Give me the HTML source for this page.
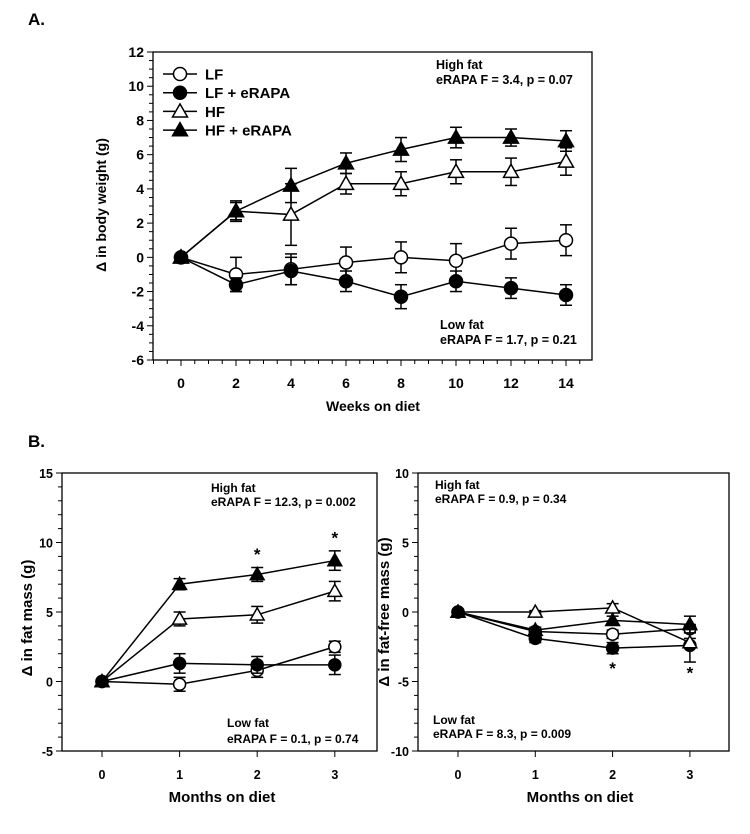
<!DOCTYPE html>
<html><head><meta charset="utf-8"><style>
html,body{margin:0;padding:0;background:#fff;}
svg{display:block;font-family:"Liberation Sans",Arial,sans-serif;}
</style></head><body>
<svg id="fig" width="750" height="834" viewBox="0 0 750 834" xmlns="http://www.w3.org/2000/svg">
<text x="28" y="25" font-size="17" font-weight="bold">A.</text>
<text x="28" y="447" font-size="17" font-weight="bold">B.</text>
</svg>
<script>
// Panel A data
const weeks = [0,2,4,6,8,10,12,14];
const aLF = [0,-1.0,-0.7,-0.3,0.0,-0.2,0.8,1.0];
const aLFerr = [0,1.0,0.9,0.9,0.9,1.0,0.9,0.9];
const aLFe = [0,-1.6,-0.8,-1.4,-2.3,-1.4,-1.8,-2.2];
const aLFeErr = [0,0.4,0.8,0.6,0.7,0.6,0.6,0.6];
const aHF = [0,2.7,2.5,4.3,4.3,5.0,5.0,5.6];
const aHFerr = [0,0.5,1.8,0.6,0.7,0.7,0.8,0.8];
const aHFe = [0,2.7,4.2,5.5,6.3,7.0,7.0,6.8];
const aHFeErr = [0,0.6,1.0,0.6,0.7,0.6,0.5,0.6];
const aYTicks = [-6,-4,-2,0,2,4,6,8,10,12];
const aXTicks = [0,2,4,6,8,10,12,14];
// Panel B data
const months = [0,1,2,3];
const fmLF = [0,-0.2,0.8,2.5];
const fmLFerr = [0,0.5,0.5,0.4];
const fmLFe = [0,1.3,1.2,1.2];
const fmLFeErr = [0,0.7,0.6,0.7];
const fmHF = [0,4.5,4.8,6.5];
const fmHFerr = [0,0.5,0.6,0.7];
const fmHFe = [0,7.0,7.7,8.7];
const fmHFeErr = [0,0.4,0.5,0.7];
const fmYTicks = [-5,0,5,10,15];
const fmStars = [[2,9.3],[3,10.5]];
const ffLF = [0,-1.4,-1.6,-1.2];
const ffLFerr = [0,0.2,0.3,0.3];
const ffLFe = [0,-1.9,-2.6,-2.4];
const ffLFeErr = [0,0.3,0.4,1.2];
const ffHF = [0,0.0,0.3,-2.2];
const ffHFerr = [0,0.1,0.3,0.3];
const ffHFe = [0,-1.3,-0.6,-0.9];
const ffHFeErr = [0,0.2,0.3,0.6];
const ffYTicks = [-10,-5,0,5,10];
const ffStars = [[2,-3.9],[3,-4.2]];

const NS="http://www.w3.org/2000/svg";
const svg=document.getElementById('fig');
function el(tag,attrs,parent){const e=document.createElementNS(NS,tag);for(const k in attrs)e.setAttribute(k,attrs[k]);(parent||svg).appendChild(e);return e;}

function marker(g,type,x,y,r){
  let m;
  if(type==='circle'||type==='dot'){
    m=el('circle',{cx:x,cy:y,r:r,fill:type==='dot'?'#000':'#fff',stroke:'#000','stroke-width':1.5},g);
  } else {
    const h=r*1.15;
    m=el('polygon',{points:`${x},${y-h} ${x-h},${y+h*0.75} ${x+h},${y+h*0.75}`,fill:type==='tri'?'#000':'#fff',stroke:'#000','stroke-width':1.5},g);
  }
  return m;
}

function panel(cfg){
  const g=el('g',{});
  
  
  const X=v=>cfg.x0+(v-cfg.xmin)*(cfg.xpx);
  const Y=v=>cfg.yb-(v-cfg.ymin)*(cfg.yb-cfg.yt)/(cfg.ymax-cfg.ymin);
  const box=el('rect',{x:cfg.bl,y:cfg.yt,width:cfg.br-cfg.bl,height:cfg.yb-cfg.yt,fill:'none',stroke:'#000','stroke-width':1.3},g);
  
  
  for(let v=cfg.ymin; v<=cfg.ymax+1e-9; v+=cfg.yminor){
    const major=cfg.yTicks.some(t=>Math.abs(t-v)<1e-6);
    el('line',{x1:cfg.bl-(major?6:4),x2:cfg.bl,y1:Y(v),y2:Y(v),stroke:'#000','stroke-width':1},g);
  }
  cfg.yTicks.forEach(t=>{
    const tx=el('text',{x:cfg.bl-9,y:Y(t)+5,'text-anchor':'end','font-size':cfg.fs,'font-weight':'bold'},g);
    tx.textContent=t;
    
    
  });
  if(cfg.xminor){
    for(let v=cfg.xmin-cfg.xminor*Math.floor((cfg.x0-cfg.bl)/(cfg.xpx*cfg.xminor)); X(v)<=cfg.br; v+=cfg.xminor){
      if(X(v)<cfg.bl)continue;
      const major=cfg.xTicks.some(t=>Math.abs(t-v)<1e-6);
      el('line',{x1:X(v),x2:X(v),y1:cfg.yb,y2:cfg.yb+(major?6:4),stroke:'#000','stroke-width':1},g);
    }
  } else {
    cfg.xTicks.forEach(t=>el('line',{x1:X(t),x2:X(t),y1:cfg.yb,y2:cfg.yb+6,stroke:'#000','stroke-width':1},g));
  }
  cfg.xTicks.forEach(t=>{
    const tx=el('text',{x:X(t),y:cfg.yb+28,'text-anchor':'middle','font-size':cfg.fs,'font-weight':'bold'},g);
    tx.textContent=t;
    
    
  });
  const xt=el('text',{x:cfg.xtitleX,y:cfg.xtitleY,'text-anchor':'middle','font-size':cfg.tfs,'font-weight':'bold'},g);
  xt.textContent=cfg.xtitle;
  
  
  const yt=el('text',{x:0,y:0,'text-anchor':'middle','font-size':cfg.tfs,'font-weight':'bold',transform:`translate(${cfg.ytitleX},${cfg.ytitleY}) rotate(-90)`},g);
  yt.textContent='\u0394 in '+cfg.ytitle;
  
  
  cfg.series.forEach(s=>{
    const sg=el('g',{},g);
    
    
    const pts=cfg.xs.map((x,i)=>`${X(x)},${Y(s.v[i])}`).join(' ');
    const pl=el('polyline',{points:pts,fill:'none',stroke:'#000','stroke-width':1.5},sg);
    
    
    cfg.xs.forEach((x,i)=>{
      if(s.e[i]>0){
        const cx=X(x),y1=Y(s.v[i]-s.e[i]),y2=Y(s.v[i]+s.e[i]);
        el('line',{x1:cx,x2:cx,y1:y1,y2:y2,stroke:'#000','stroke-width':1.5},sg);
        el('line',{x1:cx-6,x2:cx+6,y1:y1,y2:y1,stroke:'#000','stroke-width':1.5},sg);
        el('line',{x1:cx-6,x2:cx+6,y1:y2,y2:y2,stroke:'#000','stroke-width':1.5},sg);
      }
    });
    cfg.xs.forEach((x,i)=>{
      const m=marker(sg,s.type,X(x),Y(s.v[i]),cfg.r);
      
      
    });
  });
  (cfg.stars||[]).forEach(st=>{
    const t=el('text',{x:X(st[0]),y:Y(st[1])+8,'text-anchor':'middle','font-size':17,'font-weight':'bold'},g);
    t.textContent='*';
    
    
  });
  cfg.notes.forEach(n=>{
    const t=el('text',{x:n[0],y:n[1],'font-size':cfg.nfs,'font-weight':'bold'},g);
    t.textContent=n[2];
    
    
  });
  return {g,X,Y};
}

panel({name:'panel-a-body-weight',x0:181,xmin:0,xpx:27.5,bl:153,br:592,yt:52,yb:360,ymin:-6,ymax:12,
  yTicks:aYTicks,yminor:0.5,xTicks:aXTicks,xminor:0.5,xs:weeks,fs:14,tfs:14,nfs:12.5,r:6.5,
  xtitle:'Weeks on diet',xtitleX:373,xtitleY:411,ytitle:'body weight (g)',ytitleX:106,ytitleY:205,
  series:[{name:'lf',type:'circle',v:aLF,e:aLFerr},{name:'lf-erapa',type:'dot',v:aLFe,e:aLFeErr},
          {name:'hf',type:'otri',v:aHF,e:aHFerr},{name:'hf-erapa',type:'tri',v:aHFe,e:aHFeErr}],
  notes:[[436,69,'High fat'],[436,84,'eRAPA F = 3.4, p = 0.07'],[440,329,'Low fat'],[440,344,'eRAPA F = 1.7, p = 0.21']]});

const leg=el('g',{});


[['LF','circle'],['LF + eRAPA','dot'],['HF','otri'],['HF + eRAPA','tri']].forEach((d,i)=>{
  const y=74+i*18.7;
  const eg=el('g',{},leg);
  
  
  el('line',{x1:163,x2:197,y1:y,y2:y,stroke:'#000','stroke-width':1.5},eg);
  marker(eg,d[1],180,y,6.5);
  const t=el('text',{x:205,y:y+5.5,'font-size':15,'font-weight':'bold'},eg);
  t.textContent=d[0];
});

panel({name:'panel-b-fat-mass',x0:102,xmin:0,xpx:77.6,bl:62,br:377,yt:473,yb:751,ymin:-5,ymax:15,
  yTicks:fmYTicks,yminor:1,xTicks:months,xminor:0,xs:months,fs:12.5,tfs:15,nfs:12,r:6,
  xtitle:'Months on diet',xtitleX:222,xtitleY:802,ytitle:'fat mass (g)',ytitleX:32,ytitleY:618,
  series:[{name:'lf',type:'circle',v:fmLF,e:fmLFerr},{name:'lf-erapa',type:'dot',v:fmLFe,e:fmLFeErr},
          {name:'hf',type:'otri',v:fmHF,e:fmHFerr},{name:'hf-erapa',type:'tri',v:fmHFe,e:fmHFeErr}],
  stars:fmStars,
  notes:[[211,492,'High fat'],[211,506,'eRAPA F = 12.3, p = 0.002'],[227,727,'Low fat'],[227,743,'eRAPA F = 0.1, p = 0.74']]});

panel({name:'panel-b-fat-free-mass',x0:458,xmin:0,xpx:77.3,bl:418,br:729,yt:473,yb:751,ymin:-10,ymax:10,
  yTicks:ffYTicks,yminor:1,xTicks:months,xminor:0,xs:months,fs:12.5,tfs:15,nfs:12,r:6,
  xtitle:'Months on diet',xtitleX:580,xtitleY:802,ytitle:'fat-free mass (g)',ytitleX:389,ytitleY:612,
  series:[{name:'lf',type:'circle',v:ffLF,e:ffLFerr},{name:'lf-erapa',type:'dot',v:ffLFe,e:ffLFeErr},
          {name:'hf',type:'otri',v:ffHF,e:ffHFerr},{name:'hf-erapa',type:'tri',v:ffHFe,e:ffHFeErr}],
  stars:ffStars,
  notes:[[435,489,'High fat'],[435,503,'eRAPA F = 0.9, p = 0.34'],[433,724,'Low fat'],[433,738,'eRAPA F = 8.3, p = 0.009']]});
</script>
</body></html>
